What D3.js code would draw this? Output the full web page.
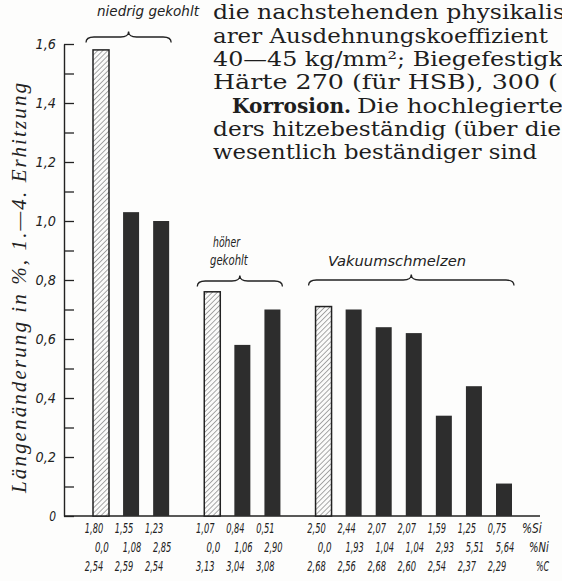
<!DOCTYPE html>
<html>
<head>
<meta charset="utf-8">
<script src="https://cdn.jsdelivr.net/npm/d3@7"></script>
<style>
  html, body { margin: 0; padding: 0; background: #fdfdfc; }
  svg { display: block; }
</style>
</head>
<body>
<svg id="chart" width="562" height="581"></svg>
<script>
// Thermal growth after the 1st to 4th heating, three melting routes
const groups = ["niedrig gekohlt", "höher gekohlt", "Vakuumschmelzen"];
const groupSizes = [3, 3, 7];
const values = [1.58, 1.03, 1.00, 0.76, 0.58, 0.70, 0.71, 0.70, 0.64, 0.62, 0.34, 0.44, 0.11];
const hatched = [true, false, false, true, false, false, true, false, false, false, false, false, false];
const siLabels = ["1,80","1,55","1,23","1,07","0,84","0,51","2,50","2,44","2,07","2,07","1,59","1,25","0,75"];
const niLabels = ["0,0","1,08","2,85","0,0","1,06","2,90","0,0","1,93","1,04","1,04","2,93","5,51","5,64"];
const cLabels  = ["2,54","2,59","2,54","3,13","3,04","3,08","2,68","2,56","2,68","2,60","2,54","2,37","2,29"];
const rowUnits = ["%Si", "%Ni", "%C"];
const yTicks = [0, 0.1, 0.2, 0.3, 0.4, 0.5, 0.6, 0.7, 0.8, 0.9, 1.0, 1.1, 1.2, 1.3, 1.4, 1.5, 1.6];
const yTitle = "Längenänderung in %, 1.—4. Erhitzung";
const bodyLines = [
  "die nachstehenden physikalis",
  "arer Ausdehnungskoeffizient",
  "40—45 kg/mm²; Biegefestigk",
  "Härte 270 (für HSB), 300 (",
  "Die hochlegierte",
  "ders hitzebeständig (über die",
  "wesentlich beständiger sind"
];

const ink = "#222";
const hand = "'DejaVu Sans Condensed', 'DejaVu Sans', sans-serif";
const svg = d3.select("#chart");

// slot position of every bar: groups are separated by an extra gap
const gap = 0.7;
const groupOf = [];
groupSizes.forEach((n, g) => { for (let k = 0; k < n; k++) groupOf.push(g); });
const slot = values.map((v, i) => i + groupOf[i] * gap);

const x = d3.scaleLinear().domain([0, d3.max(slot)]).range([101, 504]);
const y = d3.scaleLinear().domain([0, 1.6]).range([516, 44]);
const barW = 16;

// hatch pattern
const defs = svg.append("defs");
const pat = defs.append("pattern")
  .attr("id", "hatch").attr("patternUnits", "userSpaceOnUse")
  .attr("width", 3.6).attr("height", 3.6)
  .attr("patternTransform", "rotate(45)");
pat.append("rect").attr("width", 3.6).attr("height", 3.6).attr("fill", "#fbfbfa");
pat.append("line").attr("x1", 0).attr("y1", 0).attr("x2", 0).attr("y2", 3.6)
  .attr("stroke", "#555").attr("stroke-width", 1);

// handwritten-style label helper: condensed to a fixed width per character
function handText(sel, size, perChar) {
  sel.attr("fill", ink)
    .style("font-family", hand)
    .style("font-style", "italic")
    .style("font-size", size + "px")
    .attr("lengthAdjust", "spacingAndGlyphs")
    .attr("textLength", function () { return this.textContent.length * perChar; });
}

// y axis, ticks pointing into the plot
const axisX = 64;
const yAxis = d3.axisLeft(y)
  .tickValues(yTicks)
  .tickSizeInner(-10)
  .tickSizeOuter(0)
  .tickPadding(8)
  .tickFormat(d => {
    const r = Math.round(d * 10);
    if (r % 2 !== 0) return "";
    return r === 0 ? "0" : d3.format(".1f")(d).replace(".", ",");
  });
const ax = svg.append("g").attr("transform", `translate(${axisX},0)`).call(yAxis);
ax.select(".domain").attr("stroke", ink).attr("stroke-width", 1.4);
ax.selectAll(".tick line").attr("stroke", ink).attr("stroke-width", 1.3);
ax.selectAll(".tick text").filter(function () { return this.textContent.length > 0; })
  .call(handText, 13.5, 6.8);

// baseline
svg.append("line")
  .attr("x1", axisX).attr("x2", 540)
  .attr("y1", y(0)).attr("y2", y(0))
  .attr("stroke", ink).attr("stroke-width", 1.4);

// bars
svg.append("g").selectAll("rect")
  .data(values)
  .join("rect")
  .attr("x", (d, i) => x(slot[i]) - barW / 2)
  .attr("y", d => y(d))
  .attr("width", barW)
  .attr("height", d => y(0) - y(d))
  .attr("fill", (d, i) => hatched[i] ? "url(#hatch)" : "#2d2d2d")
  .attr("stroke", (d, i) => hatched[i] ? "#222" : "none")
  .attr("stroke-width", 1.5);

// composition rows under the bars
const rows = [siLabels, niLabels, cLabels];
const rowY = [533, 552, 571];
const rowDx = [-7, 1, -7];
rows.forEach((labels, r) => {
  svg.append("g").selectAll("text")
    .data(labels)
    .join("text")
    .attr("x", (d, i) => x(slot[i]) + rowDx[r])
    .attr("y", rowY[r])
    .attr("text-anchor", "middle")
    .text(d => d)
    .call(handText, 13.5, 4.6);
  svg.append("text")
    .attr("x", x(d3.max(slot)) + 18 + r * 7)
    .attr("y", rowY[r])
    .text(rowUnits[r])
    .call(handText, 13.5, 6.6);
});

// curly brace above a group
function bracePath(x1, x2, yb, h) {
  const xm = (x1 + x2) / 2;
  return `M${x1},${yb + h}` +
    `Q${x1},${yb} ${x1 + 8},${yb}` +
    `L${xm - 8},${yb}` +
    `Q${xm},${yb} ${xm},${yb - h}` +
    `Q${xm},${yb} ${xm + 8},${yb}` +
    `L${x2 - 8},${yb}` +
    `Q${x2},${yb} ${x2},${yb + h}`;
}
let start = 0;
const braceY = [37, 281, 280];
groupSizes.forEach((n, g) => {
  const x1 = x(slot[start]) - 15;
  const x2 = x(slot[start + n - 1]) + 10;
  svg.append("path")
    .attr("d", bracePath(x1, x2, braceY[g], 5.5))
    .attr("fill", "none")
    .attr("stroke", ink)
    .attr("stroke-width", 1.3);
  start += n;
});

// group captions
svg.append("text").attr("x", 97).attr("y", 16).text(groups[0]).call(handText, 14.5, 6.8);
const hg = groups[1].split(" ");
svg.append("text").attr("x", 213).attr("y", 247).text(hg[0]).call(handText, 14.5, 5.4);
svg.append("text").attr("x", 210).attr("y", 265).text(hg[1]).call(handText, 14.5, 5.4);
svg.append("text").attr("x", 328).attr("y", 266).text(groups[2]).call(handText, 14.5, 9.2);

// y axis title
svg.append("text")
  .attr("transform", "translate(26,288) rotate(-90)")
  .attr("text-anchor", "middle")
  .attr("fill", ink)
  .attr("textLength", 410)
  .style("font-family", "'Liberation Serif', 'DejaVu Serif', serif")
  .style("font-style", "italic")
  .style("font-size", "21px")
  .text(yTitle);

// running text of the page beside the figure
const body = svg.append("g")
  .attr("fill", "#1e1e1e")
  .style("font-family", "'DejaVu Serif', 'Liberation Serif', serif")
  .style("font-size", "20px");
const lineY = [19, 43, 66, 89, 113, 136, 159];
const lineLen = [352, 335, 350, 345, 0, 348, 324];
bodyLines.forEach((t, i) => {
  const tx = body.append("text").attr("x", 213).attr("y", lineY[i]);
  if (i === 4) {
    tx.append("tspan").attr("x", 232).style("font-weight", "bold")
      .attr("textLength", 119).attr("lengthAdjust", "spacingAndGlyphs").text("Korrosion.");
    tx.append("tspan").attr("x", 357)
      .attr("textLength", 206).attr("lengthAdjust", "spacingAndGlyphs").text(t);
  } else {
    tx.attr("textLength", lineLen[i]).attr("lengthAdjust", "spacingAndGlyphs").text(t);
  }
});
</script>
</body>
</html>
